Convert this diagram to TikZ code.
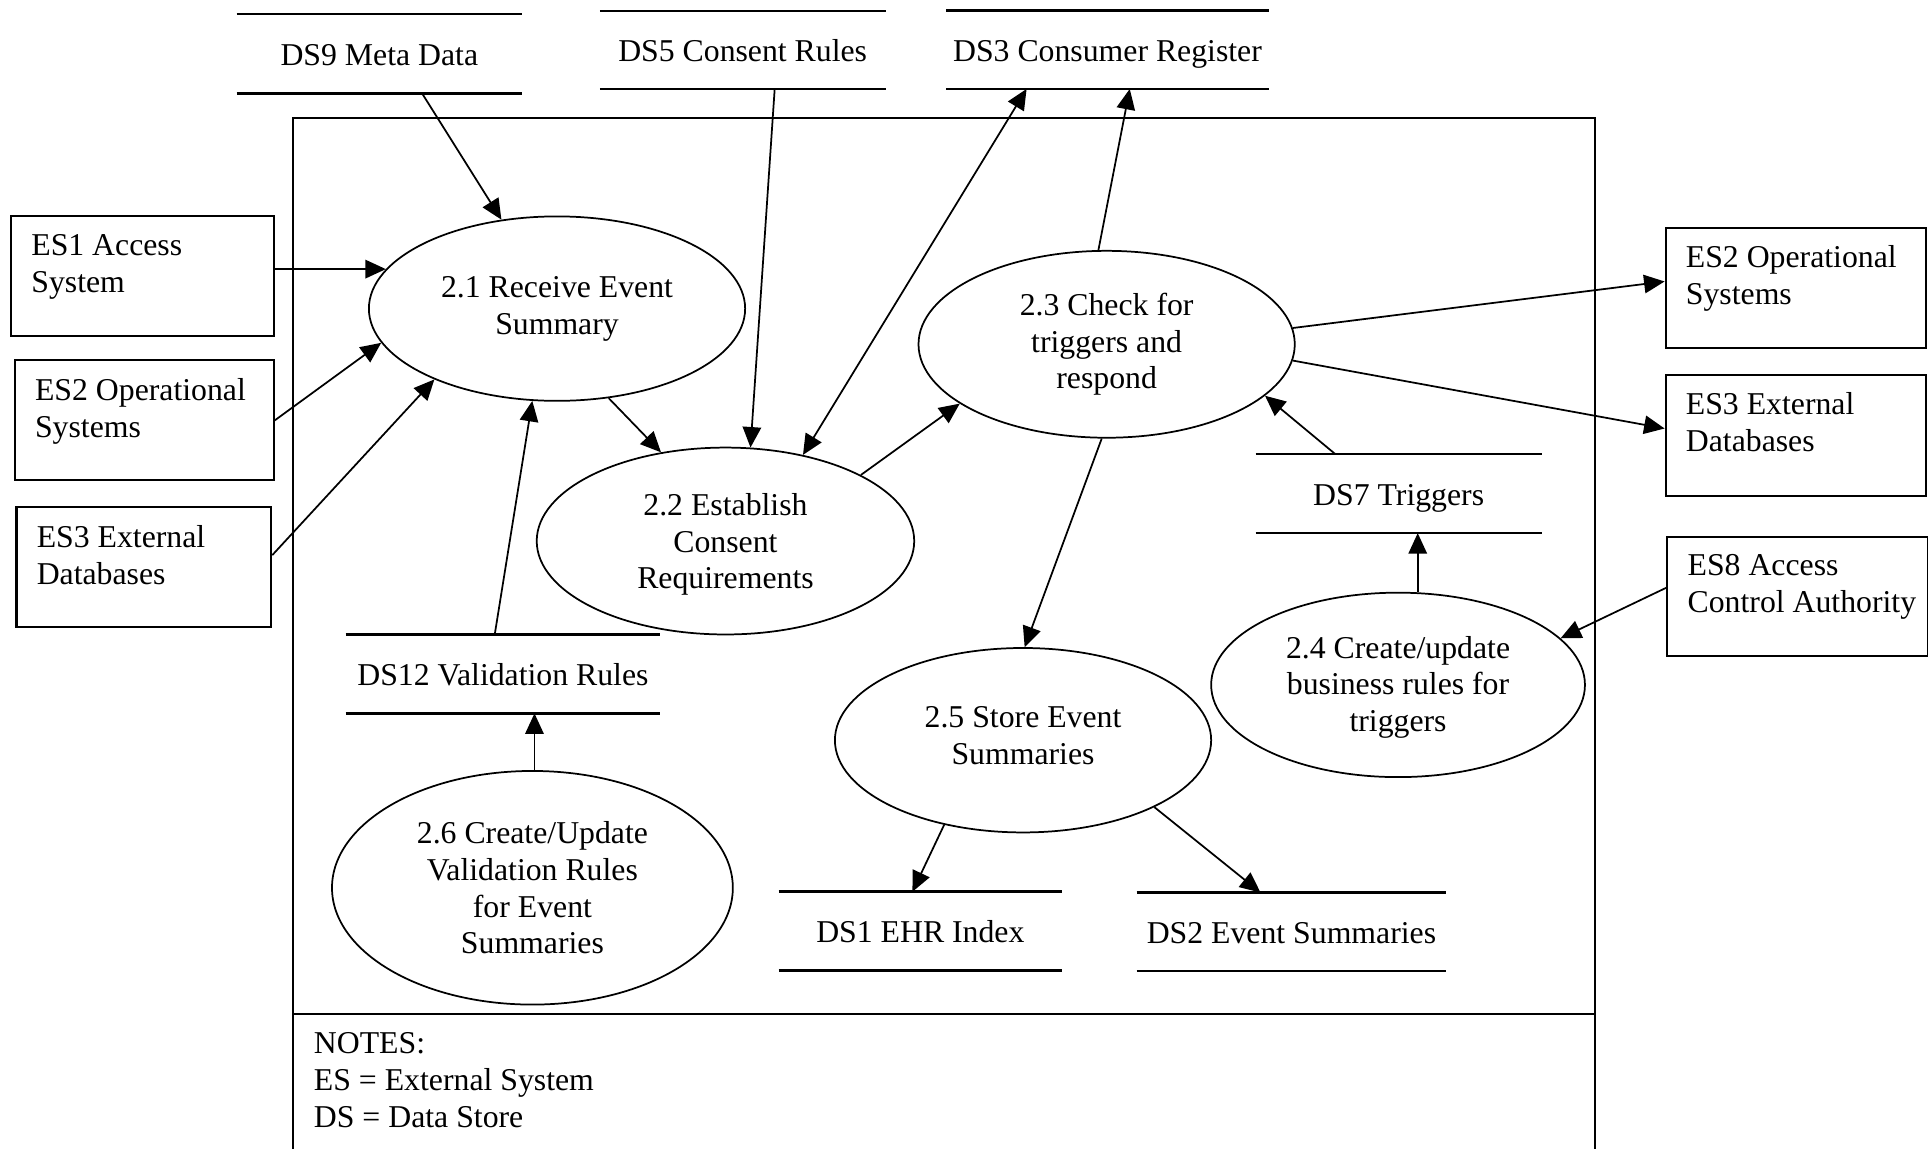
\documentclass[tikz,border=0pt]{standalone}
\usepackage{fontspec}
\setmainfont{Liberation Serif}
\usetikzlibrary{shapes.geometric,arrows.meta,calc}
\newdimen\ux \ux=0.6pt

\tikzset{
  dfd/.tip={Triangle[length=10pt,width=9pt]},
  flow/.style={line width=0.85pt,-dfd},
  twoway/.style={line width=0.85pt,dfd-dfd},
  proc/.style={ellipse,draw,line width=0.85pt,inner sep=0pt,align=center},
  store/.style={inner sep=0pt,text height=19\ux,text depth=0pt},
  storeline/.style={line width=1.3pt},
  ext/.style={draw,line width=1pt,inner sep=0pt},
  exttext/.style={anchor=north west,inner sep=0pt,align=left},
  frame/.style={line width=1pt}
}

\begin{document}
\begin{tikzpicture}[x=0.6pt,y=-0.6pt,font=\fontsize{15.5}{18}\selectfont]
\useasboundingbox (0,0) rectangle (1568,934);

% system boundary and notes panel
\draw[frame] (238,940) -- (238,96.3) -- (1296.8,96.3) -- (1296.8,940);
\draw[frame] (238,824.4) -- (1296.8,824.4);
\node[exttext] (notes) at (255,839.5) {NOTES:\\ES = External System\\DS = Data Store};

% processes
\node[proc,minimum width=306\ux,minimum height=150\ux] (p21) at (453,251) {2.1 Receive Event\\Summary};
\node[proc,minimum width=307\ux,minimum height=152\ux,text depth=0pt] (p22) at (590,440) {2.2 Establish\\Consent\\Requirements};
\node[proc,minimum width=306\ux,minimum height=152\ux] (p23) at (900,280) {2.3 Check for\\triggers and\\respond};
\node[proc,minimum width=304\ux,minimum height=150\ux,text depth=1.6\ux] (p24) at (1137,557) {2.4 Create/update\\business rules for\\triggers};
\node[proc,minimum width=306\ux,minimum height=150\ux,text depth=8\ux] (p25) at (832,602) {2.5 Store Event\\Summaries};
\node[proc,minimum width=326\ux,minimum height=190\ux] (p26) at (433,722) {2.6 Create/Update\\Validation Rules\\for Event\\Summaries};

% data stores
\node[store,minimum width=231.5\ux,minimum height=64\ux] (ds9) at (308.5,43.7) {DS9 Meta Data};
\node[store,minimum width=231.7\ux,minimum height=62.7\ux] (ds5) at (604,40.7) {DS5 Consent Rules};
\node[store,minimum width=261.5\ux,minimum height=63\ux] (ds3) at (900.7,40.5) {DS3 Consumer Register};
\node[store,minimum width=232\ux,minimum height=63.7\ux] (ds7) at (1137.5,401.4) {DS7 Triggers};
\node[store,minimum width=255\ux,minimum height=63.5\ux] (ds12) at (409,548.1) {DS12 Validation Rules};
\node[store,minimum width=230\ux,minimum height=63.4\ux] (ds1) at (748.5,757.3) {DS1 EHR Index};
\node[store,minimum width=251\ux,minimum height=63.2\ux] (ds2) at (1050.3,757.8) {DS2 Event Summaries};
\foreach \s in {ds9,ds5,ds3,ds7,ds12,ds1,ds2}
  \draw[storeline] (\s.north west) -- (\s.north east) (\s.south west) -- (\s.south east);

% external systems
\node[ext,minimum width=213.6\ux,minimum height=97.2\ux] (es1) at (115.8,224.6) {};
\node[ext,minimum width=210.6\ux,minimum height=97.6\ux] (es2l) at (117.3,341.6) {};
\node[ext,minimum width=207.2\ux,minimum height=97.6\ux] (es3l) at (117,461.4) {};
\node[ext,minimum width=211.8\ux,minimum height=98\ux] (es2r) at (1460.5,234.2) {};
\node[ext,minimum width=211.8\ux,minimum height=98.6\ux] (es3r) at (1460.5,354) {};
\node[ext,minimum width=212\ux,minimum height=97.3\ux] (es8) at (1462,485.2) {};
\node[exttext] (es1t) at ($(es1.north west)+(17,15.2)$) {ES1 Access\\System};
\node[exttext] (es2lt) at ($(es2l.north west)+(17,15.2)$) {ES2 Operational\\Systems};
\node[exttext] (es3lt) at ($(es3l.north west)+(17,15.2)$) {ES3 External\\Databases};
\node[exttext] (es2rt) at ($(es2r.north west)+(17,15.2)$) {ES2 Operational\\Systems};
\node[exttext] (es3rt) at ($(es3r.north west)+(17,15.2)$) {ES3 External\\Databases};
\node[exttext] (es8t) at ($(es8.north west)+(17,15.2)$) {ES8 Access\\Control Authority};

% data flows
\draw[flow] ($(ds9.south west)!0.65!(ds9.south east)$) -- (p21.122);
\draw[flow] ($(ds5.south west)!0.612!(ds5.south east)$) -- (p22.75);
\draw[twoway] ($(ds3.south west)!0.249!(ds3.south east)$) -- (p22.48);
\draw[flow] (p23.95) -- ($(ds3.south west)!0.569!(ds3.south east)$);
\draw[flow] ($(es1.north east)!0.442!(es1.south east)$) -- (p21.167);
\draw[flow] ($(es2l.north east)!0.503!(es2l.south east)$) -- (p21.191);
\draw[flow] ($(es3l.north east)!0.40!(es3l.south east)$) -- (p21.210);
\draw[flow] (p21.300.6) -- (p22.126);
\draw[flow] (p22.26) -- (p23.202);
\draw[flow] ($(ds12.north west)!0.474!(ds12.north east)$) -- (p21.255.5);
\draw[flow] (p26.89) -- (p26.89 |- ds12.south);
\draw[flow] (p23.5.4) -- ($(es2r.north west)!0.447!(es2r.south west)$);
\draw[flow] (p23.355.5) -- ($(es3r.north west)!0.445!(es3r.south west)$);
\draw[flow] ($(ds7.north west)!0.278!(ds7.north east)$) -- (p23.342);
\draw[flow] (p24.78) -- (p24.78 |- ds7.south);
\draw[flow] ($(es8.north west)!0.427!(es8.south west)$) -- (p24.16.3);
\draw[flow] (p23.267) -- (p25.89);
\draw[flow] (p25.227.7) -- ($(ds1.north west)!0.472!(ds1.north east)$);
\draw[flow] (p25.333) -- ($(ds2.north west)!0.40!(ds2.north east)$);
\end{tikzpicture}
\end{document}
